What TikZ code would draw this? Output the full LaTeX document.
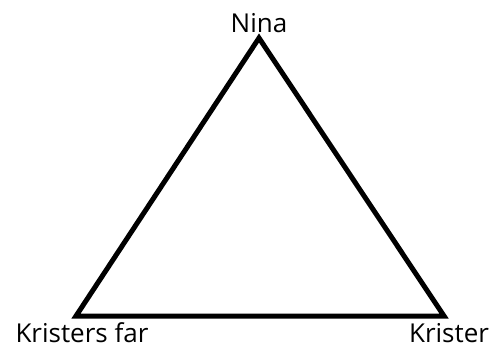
\documentclass[tikz,border=0pt]{standalone}
\usepackage{fontspec}
\setmainfont{Open Sans}
\begin{document}
\begin{tikzpicture}[x=1pt,y=-1pt,
  lbl/.style={font=\fontsize{26}{30}\selectfont, inner sep=0pt, anchor=base},
  edge/.style={line width=5pt, line join=miter}]
\useasboundingbox (0,0) rectangle (495,348);
\coordinate (N) at (259,38);
\coordinate (F) at (76,316);
\coordinate (K) at (444,316);
\draw[edge] (N) -- (F) -- (K) -- cycle;
\node[lbl] (nina) at (259,32) {Nina};
\node[lbl] (far) at (82,342) {Kristers far};
\node[lbl] (kr) at (449,342) {Krister};
\end{tikzpicture}
\end{document}
